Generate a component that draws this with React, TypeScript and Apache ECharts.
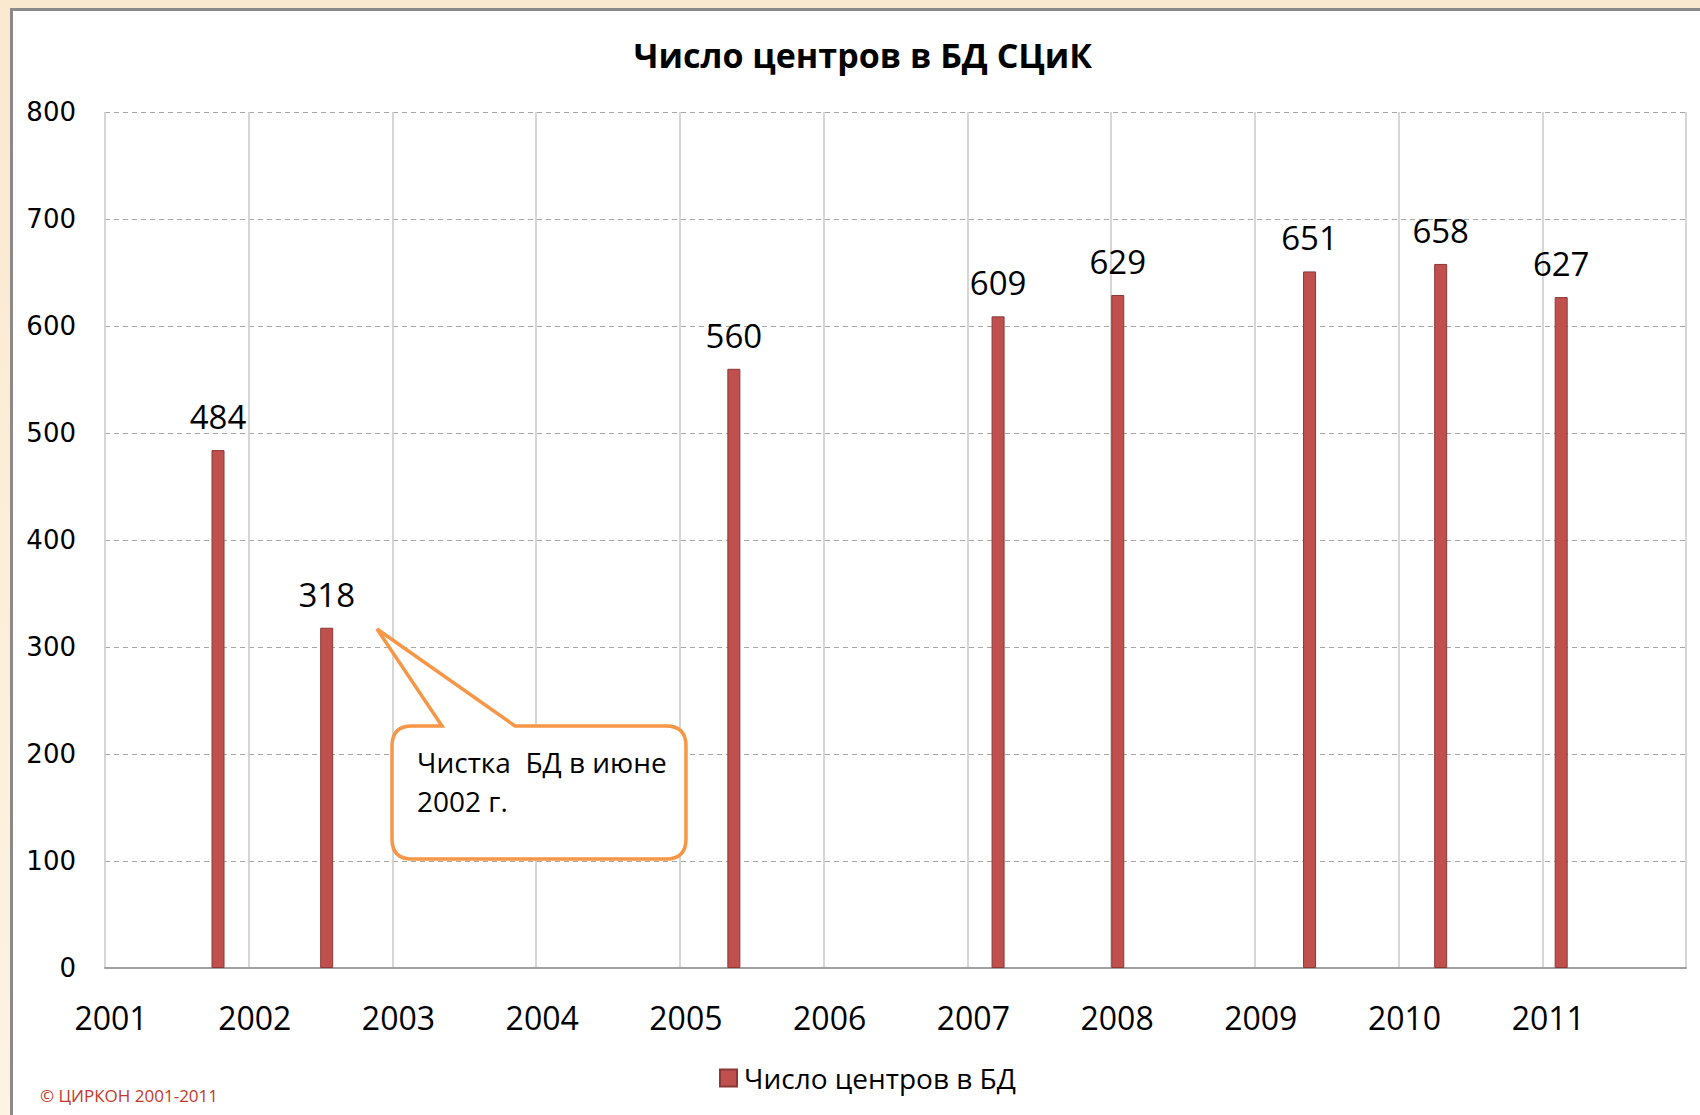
import React, { useEffect, useRef } from "react";
import * as echarts from "echarts";

const seriesName = "Число центров в БД";
const titleText = "Число центров в БД СЦиК";
const dates = ["2001-10-15", "2002-07-18", "2005-05-18", "2007-03-20", "2008-01-18", "2009-05-20", "2010-04-18", "2011-02-18"];
const values = [484, 318, 560, 609, 629, 651, 658, 627];
const yearMin = 2001;
const yearMax = 2012;
const calloutLines = ["Чистка  БД в июне", "2002 г."];
const copyright = "© ЦИРКОН 2001-2011";

function toYearFraction(s: string): number {
  const d = new Date(s + "T00:00:00Z");
  const y = d.getUTCFullYear();
  const start = Date.UTC(y, 0, 1);
  const end = Date.UTC(y + 1, 0, 1);
  return y + (d.getTime() - start) / (end - start);
}

const calloutPath =
  "M 20 0 L 50 0 L -15 -97 L 123 0 L 274 0 Q 294 0 294 20 L 294 113 Q 294 133 274 133 L 20 133 Q 0 133 0 113 L 0 20 Q 0 0 20 0 Z";

let registered = false;
function registerShapes() {
  if (registered) return;
  registered = true;
  echarts.graphic.registerShape("callout", echarts.graphic.extendPath(calloutPath, {}) as any);
}

export default function App() {
  const ref = useRef<HTMLDivElement>(null);
  useEffect(() => {
    if (!ref.current) return;
    registerShapes();
    const chart = echarts.init(ref.current, undefined, { renderer: "svg" });
    const data = dates.map((d, i) => [toYearFraction(d), values[i]]);
    chart.setOption({
      animation: false,
      backgroundColor: "transparent",
      title: {
        text: titleText,
        left: 858,
        top: 33,
        textAlign: "center",
        textStyle: { fontFamily: "Open Sans", fontWeight: "bold", fontSize: 34, color: "#000" },
      },
      legend: {
        left: 719,
        top: 1064,
        padding: 0,
        icon: "rect",
        itemWidth: 17,
        itemHeight: 17,
        itemGap: 9,
        textStyle: { fontFamily: "Open Sans", fontSize: 28, color: "#000", padding: [0, 0, 0, 2] },
        data: [seriesName],
      },
      grid: { left: 105, right: 14, top: 112, bottom: 147 },
      xAxis: {
        type: "value",
        min: yearMin,
        max: yearMax,
        interval: 1,
        axisLine: { show: true, lineStyle: { color: "#a0a0a0", width: 2 } },
        axisTick: { show: false },
        splitLine: { show: true, lineStyle: { color: "#c8c8c8", width: 1.5, type: "solid" } },
        axisLabel: {
          margin: 29,
          fontFamily: "Open Sans",
          fontSize: 32,
          lineHeight: 40,
          color: "#000",
          padding: [0, 0, 0, 12],
          formatter: (v: number) => (v === yearMax ? "" : String(v)),
        },
      },
      yAxis: {
        type: "value",
        min: 0,
        max: 800,
        interval: 100,
        axisLine: { show: false },
        axisTick: { show: false },
        splitLine: { show: true, lineStyle: { color: "#a6a6a6", width: 1, type: [5, 4] } },
        axisLabel: { margin: 29, fontFamily: "DejaVu Sans", fontSize: 26, color: "#000" },
      },
      series: [
        {
          name: seriesName,
          type: "bar",
          barWidth: 13,
          data,
          itemStyle: { color: "#c0504d", borderColor: "#8c3836", borderWidth: 1 },
          label: {
            show: true,
            position: "top",
            distance: 17,
            fontFamily: "Open Sans",
            fontSize: 33,
            color: "#000",
            formatter: (p: any) => String(p.value[1]),
          },
        },
      ],
      graphic: [
        {
          type: "callout",
          x: 392,
          y: 726,
          z: 100,
          style: { fill: "#ffffff", stroke: "#f79646", lineWidth: 3.5 },
        },
        {
          type: "text",
          x: 417,
          y: 781,
          z: 101,
          style: {
            text: calloutLines.join("\n"),
            fontFamily: "Open Sans",
            fontSize: 28,
            lineHeight: 39,
            fill: "#000",
            verticalAlign: "middle",
          },
        },
        {
          type: "text",
          x: 40,
          y: 1095,
          style: {
            text: copyright,
            fontFamily: "Open Sans",
            fontSize: 17,
            fill: "#c0392b",
            verticalAlign: "middle",
          },
        },
      ],
    });
    return () => chart.dispose();
  }, []);

  return (
    <div
      style={{
        position: "fixed",
        left: 0,
        top: 0,
        width: 1700,
        height: 1115,
        background: "linear-gradient(180deg, #fbe9cf 0%, #fdf3e3 100%)",
        overflow: "hidden",
      }}
    >
      <div
        style={{
          position: "absolute",
          left: 10,
          top: 8,
          width: 1700,
          height: 1120,
          background: "#ffffff",
          borderLeft: "3px solid #8a8a8a",
          borderTop: "3px solid #8a8a8a",
        }}
      />
      <div ref={ref} style={{ position: "absolute", left: 0, top: 0, width: 1700, height: 1115 }} />
    </div>
  );
}
